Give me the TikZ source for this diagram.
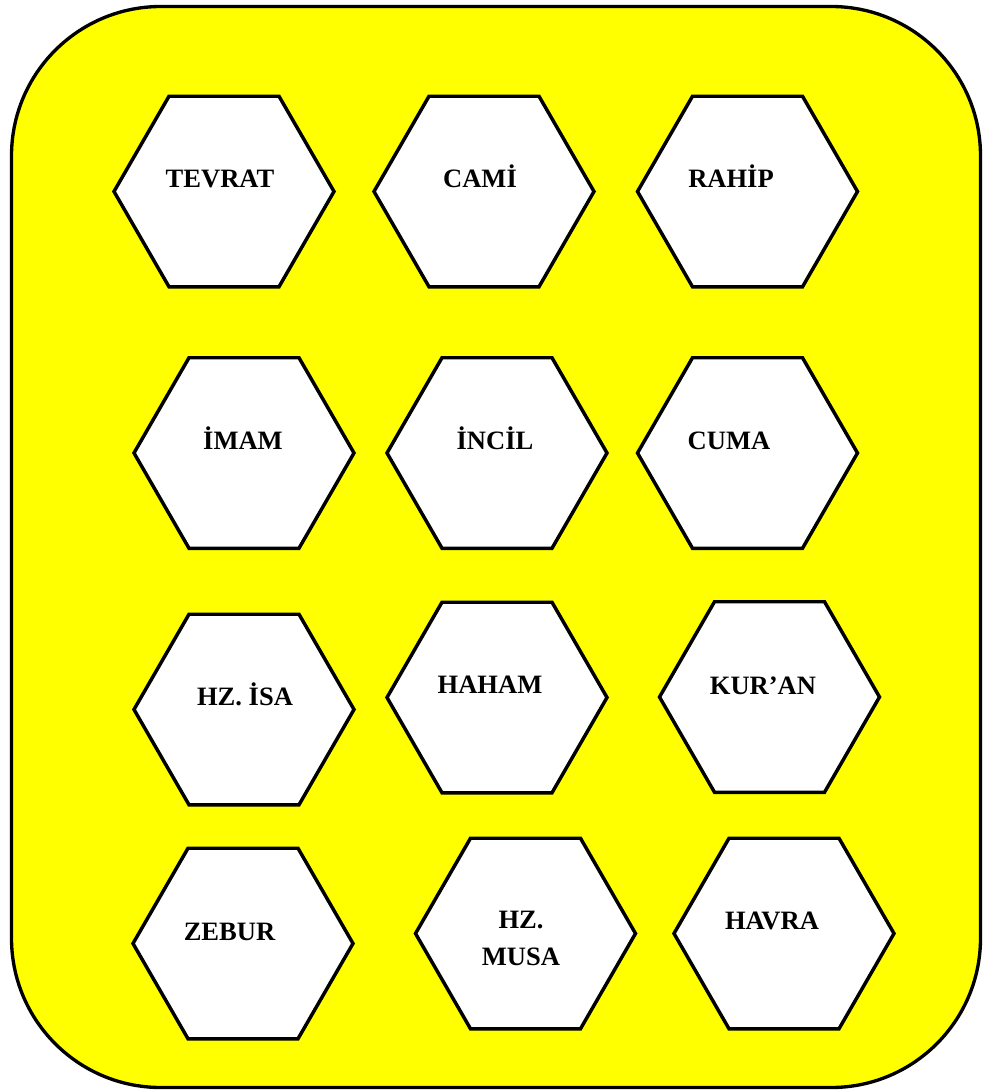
\documentclass[tikz,border=0pt]{standalone}
\usepackage{fontspec}
\setmainfont{Liberation Serif}
\usepackage{tikz}
\usetikzlibrary{shapes.geometric}

\definecolor{cardyellow}{HTML}{FFFF00}

\begin{document}
\begin{tikzpicture}[
    x=0.75pt, y=-0.75pt,
    %% Background card
    card/.style = {
      draw=black, line width=2.5pt, fill=cardyellow,
      rounded corners=112pt},
    %% Hexagon tiles
    hexa/.style = {
      regular polygon, regular polygon sides=6,
      draw=black, line width=2.6pt, fill=white,
      minimum size=165pt, inner sep=0pt, outer sep=0pt},
    %% Tile words
    word/.style = {
      font=\fontsize{19.9}{27.75}\selectfont\bfseries,
      inner sep=0pt, anchor=base, align=center},
  ]
    \useasboundingbox (0,0) rectangle (984,1092);

    %% ── Card ──────────────────────────────────────────────────────────────
    \draw[card] (11.5,6.5) rectangle (980.5,1087.5);

    %% ── Row 1 ─────────────────────────────────────────────────────────────
    \node[hexa] (tevrat) at (224,191.5) {};
    \node[hexa] (cami)   at (484,191.5) {};
    \node[hexa] (rahip)  at (747.5,191.5) {};
    \node[word] (tevratW) at (220,187) {TEVRAT};
    \node[word] (camiW)   at (480,187) {CAMİ};
    \node[word] (rahipW)  at (731,187) {RAHİP};

    %% ── Row 2 ─────────────────────────────────────────────────────────────
    \node[hexa] (imam)  at (244,453) {};
    \node[hexa] (incil) at (497,453) {};
    \node[hexa] (cuma)  at (747.5,453) {};
    \node[word] (imamW)  at (243,449) {İMAM};
    \node[word] (incilW) at (495,449) {İNCİL};
    \node[word] (cumaW)  at (729,449) {CUMA};

    %% ── Row 3 ─────────────────────────────────────────────────────────────
    \node[hexa] (isa)   at (244,709.5) {};
    \node[hexa] (haham) at (497,697.5) {};
    \node[hexa] (kuran) at (769.5,697) {};
    \node[word] (isaW)   at (245,705) {HZ. İSA};
    \node[word] (hahamW) at (490,693) {HAHAM};
    \node[word] (kuranW) at (763,694) {KUR’AN};

    %% ── Row 4 ─────────────────────────────────────────────────────────────
    \node[hexa] (zebur) at (243,943.5) {};
    \node[hexa] (musa)  at (525.5,933.5) {};
    \node[hexa] (havra) at (784,933.5) {};
    \node[word] (zeburW) at (229.5,940) {ZEBUR};
    \node[word, anchor=center] (musaW) at (521,938.5) {HZ.\\MUSA};
    \node[word] (havraW) at (772,929) {HAVRA};

\end{tikzpicture}
\end{document}
